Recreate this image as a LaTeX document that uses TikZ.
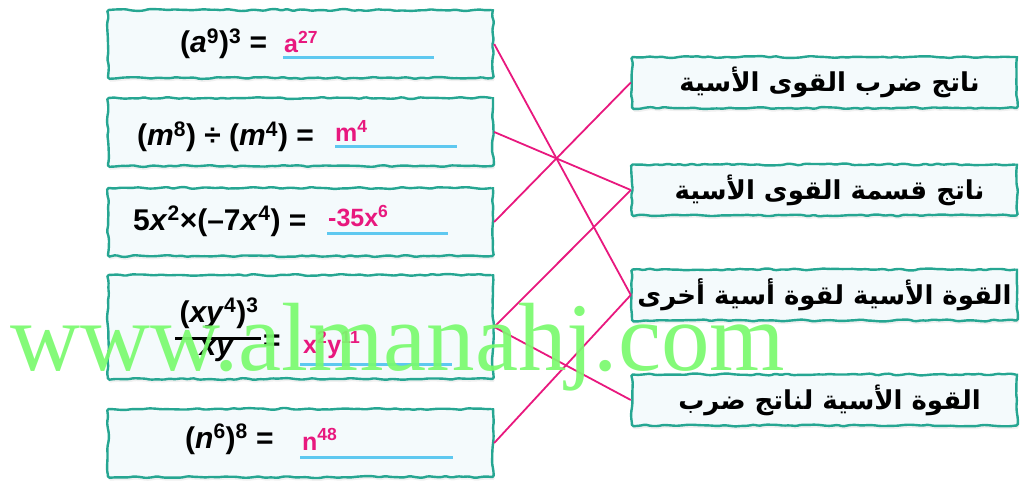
\documentclass[tikz,border=0pt]{standalone}
\usepackage{fontspec}
\setmainfont{Liberation Sans}
\newfontfamily\arabicfont[Script=Arabic]{DejaVu Sans}
\newfontfamily\wmfont{Liberation Serif}
\TeXXeTstate=1
\usetikzlibrary{decorations.pathmorphing,shadows}
\definecolor{boxteal}{RGB}{38,166,146}
\definecolor{boxfill}{RGB}{244,250,252}
\definecolor{ansmag}{RGB}{232,24,126}
\definecolor{ulblue}{RGB}{94,200,240}
\definecolor{wmgreen}{RGB}{122,250,110}
\begin{document}
\pgfmathsetseed{7}
\begin{tikzpicture}[x=1pt,y=-1pt,
  card/.style={draw=boxteal, line width=2.4pt, fill=boxfill, rounded corners=1.5pt,
    decorate, decoration={random steps,segment length=6pt,amplitude=1pt},
    minimum width=385pt, inner sep=0pt,
    drop shadow={opacity=0.12, shadow xshift=1pt, shadow yshift=-3pt}},
  eqtext/.style={anchor=base west, inner sep=0pt, font=\fontsize{30}{32}\selectfont\bfseries, text=black},
  anstext/.style={anchor=base west, inner sep=0pt, font=\fontsize{25}{28}\selectfont\bfseries, text=ansmag},
  artext/.style={inner sep=0pt, font=\arabicfont\fontsize{26}{30}\selectfont\bfseries},
  uline/.style={draw=ulblue, line width=3pt},
  link/.style={draw=ansmag, line width=1.8pt},
  wmark/.style={anchor=base west, inner sep=0pt, font=\wmfont\fontsize{97}{100}\selectfont, text=wmgreen, opacity=0.92}]
\useasboundingbox (0,0) rectangle (1028,481);
% left cards
\node[card, minimum height=68pt] (L1) at (300.5,44) {};
\node[card, minimum height=68pt] (L2) at (300.5,132) {};
\node[card, minimum height=68pt] (L3) at (300.5,222) {};
\node[card, minimum height=104pt] (L4) at (300.5,327) {};
\node[card, minimum height=68pt] (L5) at (300.5,443) {};
% right cards
\node[card, minimum height=51pt] (R1) at (824.5,82.5) {};
\node[card, minimum height=51pt] (R2) at (824.5,190) {};
\node[card, minimum height=51pt] (R3) at (824.5,295) {};
\node[card, minimum height=51pt] (R4) at (824.5,400) {};
% left texts
\node[eqtext] (e1) at (180,53) {(\textit{a}\textsuperscript{9})\textsuperscript{3} =};
\node[anstext] (a1) at (284,53) {a\textsuperscript{27}};
\draw[uline] (283,58) -- (434,58);
\node[eqtext] (e2) at (137,146) {(\textit{m}\textsuperscript{8}) ÷ (\textit{m}\textsuperscript{4}) =};
\node[anstext] (a2) at (335,142) {m\textsuperscript{4}};
\draw[uline] (335,147) -- (457,147);
\node[eqtext] (e3) at (133,230) {5\textit{x}\textsuperscript{2}×(–7\textit{x}\textsuperscript{4}) =};
\node[anstext] (a3) at (328,227) {-35x\textsuperscript{6}};
\draw[uline] (327,234) -- (448,234);
\node[eqtext, anchor=base] (e4n) at (219,322) {(\textit{xy}\textsuperscript{4})\textsuperscript{3}};
\node[eqtext, anchor=base] (e4d) at (217,355) {\textit{xy}};
\draw[line width=3pt, black] (175,338) -- (261,338);
\node[eqtext] (e4e) at (263,350) {=};
\node[anstext] (a4) at (303,353) {x\textsuperscript{2}y\textsuperscript{11}};
\draw[uline] (300,364) -- (452,364);
\node[eqtext] (e5) at (185,448) {(\textit{n}\textsuperscript{6})\textsuperscript{8} =};
\node[anstext] (a5) at (302,450) {n\textsuperscript{48}};
\draw[uline] (300,457) -- (453,457);
% right texts
\node[artext] (t1) at ([xshift=5pt]R1.center) {\beginR ناتج ضرب القوى الأسية\endR};
\node[artext] (t2) at ([xshift=5pt]R2.center) {\beginR ناتج قسمة القوى الأسية\endR};
\node[artext] (t3) at (R3.center) {\beginR القوة الأسية لقوة أسية أخرى\endR};
\node[artext] (t4) at ([xshift=5pt]R4.center) {\beginR القوة الأسية لناتج ضرب\endR};
% connectors
\draw[link] (L1.east) -- (R3.west);
\draw[link] (L2.east) -- (R2.west);
\draw[link] (L3.east) -- (R1.west);
\draw[link] (L4.east) -- (R2.west);
\draw[link] (L4.east) -- (R4.west);
\draw[link] (L5.east) -- (R3.west);
% watermark
\node[wmark] (wm) at (10,370) {www.almanahj.com};
\end{tikzpicture}
\end{document}
